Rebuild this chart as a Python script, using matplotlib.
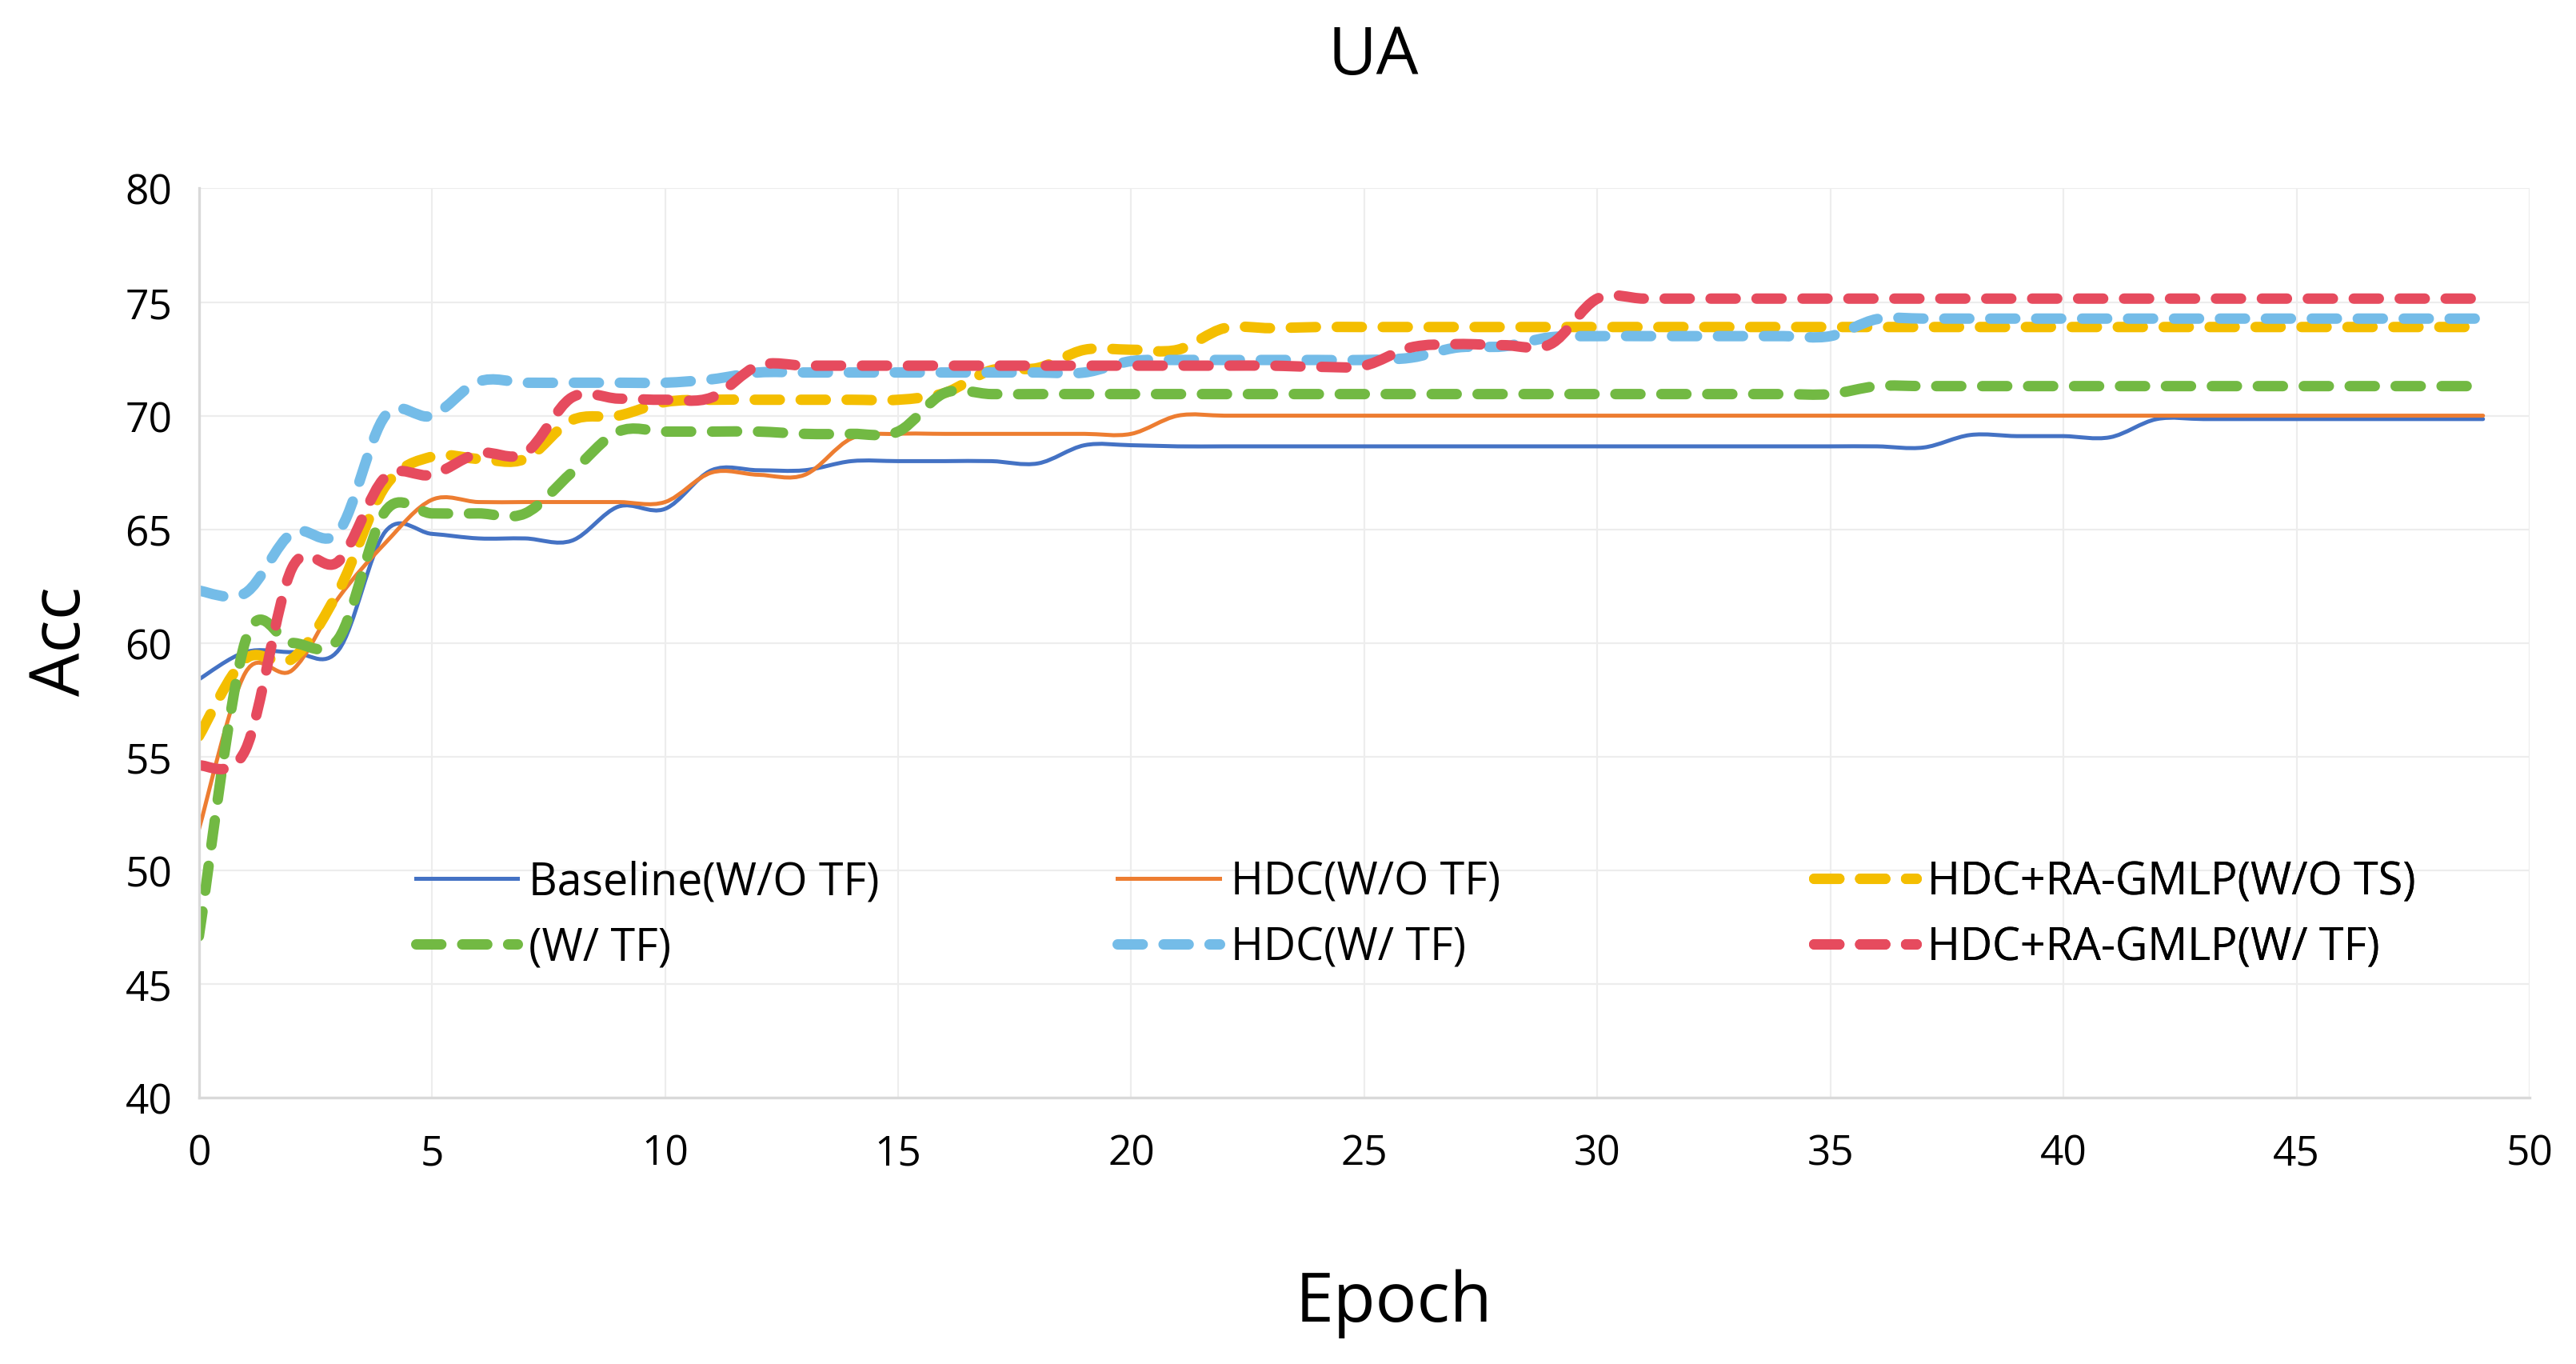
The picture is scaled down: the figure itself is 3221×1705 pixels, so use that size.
import matplotlib
matplotlib.use("Agg")
import matplotlib.pyplot as plt
import numpy as np
from matplotlib.path import Path
from matplotlib.patches import PathPatch
from matplotlib.lines import Line2D

plt.rcParams['font.family'] = ['Open Sans', 'DejaVu Sans']

epochs = list(range(50))

baseline = [58.4, 59.6, 59.6, 59.7, 64.9, 64.8, 64.6, 64.6, 64.5, 66.0,
            65.9, 67.6, 67.6, 67.6, 68.0, 68.0, 68.0, 68.0, 67.9, 68.7,
            68.7, 68.65, 68.65, 68.65, 68.65, 68.65, 68.65, 68.65, 68.65, 68.65,
            68.65, 68.65, 68.65, 68.65, 68.65, 68.65, 68.65, 68.6, 69.15, 69.1,
            69.1, 69.05, 69.85, 69.85, 69.85, 69.85, 69.85, 69.85, 69.85, 69.85]
hdc_wo = [51.8, 58.7, 58.8, 62.0, 64.4, 66.3, 66.2, 66.2, 66.2, 66.2,
          66.2, 67.5, 67.4, 67.4, 69.0, 69.2, 69.2, 69.2, 69.2, 69.2,
          69.2, 70.0, 70.0, 70.0, 70.0, 70.0, 70.0, 70.0, 70.0, 70.0,
          70.0, 70.0, 70.0, 70.0, 70.0, 70.0, 70.0, 70.0, 70.0, 70.0,
          70.0, 70.0, 70.0, 70.0, 70.0, 70.0, 70.0, 70.0, 70.0, 70.0]
gmlp_wo = [55.9, 59.3, 59.3, 62.3, 66.9, 68.2, 68.1, 68.1, 69.8, 70.0,
           70.6, 70.7, 70.7, 70.7, 70.7, 70.7, 71.0, 72.0, 72.1, 72.9,
           72.9, 72.9, 73.85, 73.85, 73.9, 73.9, 73.9, 73.9, 73.9, 73.9,
           73.9, 73.9, 73.9, 73.9, 73.9, 73.9, 73.9, 73.9, 73.9, 73.9,
           73.9, 73.9, 73.9, 73.9, 73.9, 73.9, 73.9, 73.9, 73.9, 73.9]
base_w = [47.1, 60.1, 60.0, 60.2, 65.8, 65.7, 65.7, 65.7, 67.5, 69.3,
          69.3, 69.3, 69.3, 69.2, 69.2, 69.3, 71.0, 70.95, 70.95, 70.95,
          70.95, 70.95, 70.95, 70.95, 70.95, 70.95, 70.95, 70.95, 70.95, 70.95,
          70.95, 70.95, 70.95, 70.95, 70.95, 70.95, 71.3, 71.3, 71.3, 71.3,
          71.3, 71.3, 71.3, 71.3, 71.3, 71.3, 71.3, 71.3, 71.3, 71.3]
hdc_w = [62.3, 62.2, 64.85, 64.9, 70.0, 70.0, 71.5, 71.45, 71.45, 71.45,
         71.45, 71.6, 71.9, 71.9, 71.9, 71.9, 71.9, 71.9, 71.9, 71.9,
         72.4, 72.45, 72.45, 72.45, 72.45, 72.45, 72.55, 73.0, 73.05, 73.45,
         73.5, 73.5, 73.5, 73.5, 73.5, 73.5, 74.25, 74.27, 74.27, 74.27,
         74.27, 74.27, 74.27, 74.27, 74.27, 74.27, 74.27, 74.27, 74.27, 74.27]
gmlp_w = [54.6, 55.3, 63.3, 63.6, 67.3, 67.4, 68.35, 68.35, 70.8, 70.75,
          70.7, 70.8, 72.2, 72.2, 72.2, 72.2, 72.2, 72.2, 72.2, 72.2,
          72.2, 72.2, 72.2, 72.2, 72.15, 72.2, 73.0, 73.15, 73.1, 73.15,
          75.15, 75.15, 75.15, 75.15, 75.15, 75.15, 75.15, 75.15, 75.15, 75.15,
          75.15, 75.15, 75.15, 75.15, 75.15, 75.15, 75.15, 75.15, 75.15, 75.15]

labels = ['Baseline(W/O TF)', 'HDC(W/O TF)', 'HDC+RA-GMLP(W/O TS)',
          '(W/ TF)', 'HDC(W/ TF)', 'HDC+RA-GMLP(W/ TF)']
colors = ['#4472C4', '#ED7D31', '#F4BE00', '#72B943', '#74BCE8', '#E64B5E']
series = [baseline, hdc_wo, gmlp_wo, base_w, hdc_w, gmlp_w]
dashed = [False, False, True, True, True, True]


def smooth_path(x, y):
    # excel-like smoothed line: cubic bezier through every point
    x = np.asarray(x, float)
    y = np.asarray(y, float)
    pts = np.column_stack([x, y])
    ext = np.vstack([pts[0], pts, pts[-1]])
    verts = [pts[0]]
    codes = [Path.MOVETO]
    for i in range(len(pts) - 1):
        p0, p1, p2, p3 = ext[i], ext[i + 1], ext[i + 2], ext[i + 3]
        verts += [p1 + (p2 - p0) / 6, p2 - (p3 - p1) / 6, p2]
        codes += [Path.CURVE4] * 3
    return Path(verts, codes)


fig = plt.figure(figsize=(16.105, 8.53), dpi=200)
ax = fig.add_axes([0.0772, 0.1952, 0.9048, 0.6662])

ax.set_xlim(0, 50)
ax.set_ylim(40, 80)
ax.set_xticks(range(0, 51, 5))
ax.set_yticks(range(40, 81, 5))
ax.grid(True, color='#EDEDED', linewidth=0.8)
ax.set_axisbelow(True)
for s in ['top', 'right']:
    ax.spines[s].set_visible(False)
for s in ['left', 'bottom']:
    ax.spines[s].set_color('#D9D9D9')
    ax.spines[s].set_linewidth(1.2)
ax.tick_params(length=0, labelsize=18.5)
ax.tick_params(axis='y', pad=12)
ax.tick_params(axis='x', pad=16)

handles = []
for ys, c, d, lab in zip(series, colors, dashed, labels):
    if d:
        lw = 4.7
        ls = (0, (2.4, 2.0))
    else:
        lw = 1.8
        ls = '-'
    patch = PathPatch(smooth_path(epochs, ys), fill=False, edgecolor=c,
                      linewidth=lw, linestyle=ls, capstyle='round',
                      joinstyle='round')
    ax.add_patch(patch)
    handles.append(Line2D([], [], color=c, linewidth=lw, linestyle=ls,
                          dash_capstyle='round', label=lab))

legend_x = [0.093, 0.394, 0.693]
for k, lx in enumerate(legend_x):
    leg = ax.legend(handles=[handles[k], handles[k + 3]], loc='upper left',
                    bbox_to_anchor=(lx, 0.262), frameon=False, borderpad=0,
                    borderaxespad=0, handlelength=2.3, handletextpad=0.25,
                    labelspacing=0.45, fontsize=20)
    ax.add_artist(leg)

fig.text(0.533, 0.958, 'UA', ha='center', va='center', fontsize=30)
fig.text(0.0242, 0.530, 'Acc', ha='center', va='center', rotation=90, fontsize=31)
fig.text(0.541, 0.0446, 'Epoch', ha='center', va='center', fontsize=31)

fig.savefig('out.png', dpi=200, facecolor='white')
